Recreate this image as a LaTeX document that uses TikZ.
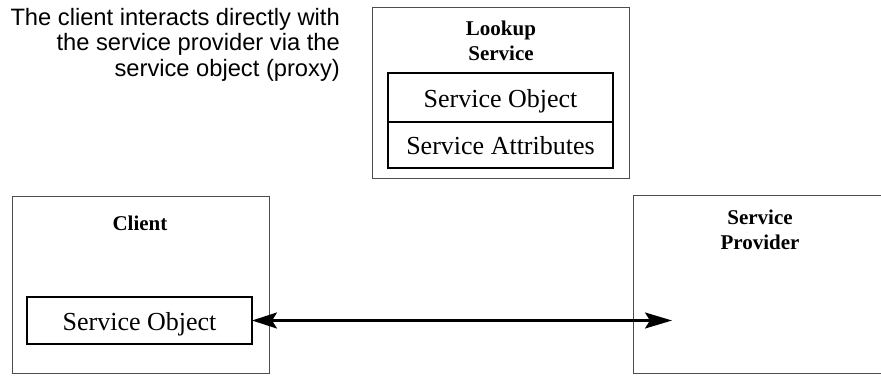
\documentclass[tikz,border=0pt]{standalone}
\usepackage{fontspec}
\setmainfont{Liberation Serif}
\setsansfont{Liberation Sans}
\usetikzlibrary{arrows.meta,positioning}

\begin{document}
\begin{tikzpicture}[x=1pt,y=-1pt,
  outerbox/.style={draw=black!70, line width=1pt, inner sep=0pt,
    minimum width=257pt},
  innerbox/.style={draw, line width=1.2pt, inner sep=0pt, outer sep=0pt,
    minimum width=225pt, text height=19pt, text depth=0pt,
    font=\fontsize{26}{28}\selectfont},
  boxtitle/.style={font=\bfseries\fontsize{21}{25}\selectfont, align=center},
  link/.style={line width=2.4pt,
    {Stealth[length=25pt,width=16pt,inset=5pt]}-{Stealth[length=27pt,width=16pt,inset=5pt]}}]
  \useasboundingbox (0,0) rectangle (881,375);

  % remark
  \node[font=\sffamily\fontsize{23.7}{25.5}\selectfont, align=right,
    anchor=north east, inner sep=0pt] (remark) at (340,8)
    {The client interacts directly with\\the service provider via the\\service object (proxy)};

  % lookup service
  \node[outerbox, minimum height=171pt] (lookup) at (500.5,92.5) {};
  \node[boxtitle] (lookuptitle) at (501,40.5) {Lookup\\Service};
  \node[innerbox, minimum height=49pt] (lookobj) at (500.5,97.5) {Service Object};
  \node[innerbox, minimum height=46pt, below=0pt of lookobj] (lookattr) {Service Attributes};

  % client
  \node[outerbox, minimum height=177pt] (client) at (140.5,284.5) {};
  \node[boxtitle] (clienttitle) at (140,223) {Client};
  \node[innerbox, minimum height=47pt] (clientobj) at (139.5,320.5) {Service Object};

  % service provider (runs off the right edge)
  \node[outerbox, minimum width=300pt, minimum height=178pt] (provider) at (783,284) {};
  \node[boxtitle] (providertitle) at (760,230) {Service\\Provider};
  \coordinate (provin) at (672,320.5);

  \draw[link] (clientobj.east) -- (provin);
\end{tikzpicture}
\end{document}
